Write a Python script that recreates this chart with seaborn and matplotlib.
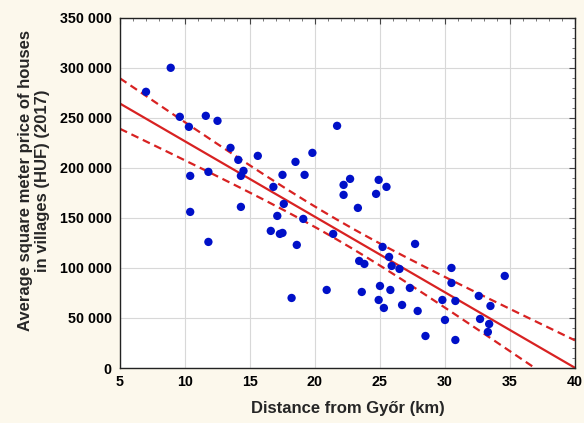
import numpy as np
import pandas as pd
import seaborn as sns
import matplotlib.pyplot as plt
from matplotlib.ticker import FuncFormatter, MultipleLocator

sns.set_style("whitegrid")
plt.rcParams["font.family"] = ["Liberation Sans", "DejaVu Sans"]

# distance from Győr (km)
distance = [7.0, 8.9, 9.6, 10.3, 10.4, 10.4, 11.6, 12.5, 11.8, 11.8,
            13.5, 14.1, 14.5, 14.3, 14.3, 15.6, 16.8, 16.6, 17.1, 17.3,
            17.5, 17.5, 17.6, 18.5, 18.2, 18.6, 19.1, 19.2, 19.8, 20.9,
            21.4, 21.7, 22.2, 22.2, 22.7, 23.3, 23.4, 23.8, 23.6, 24.7,
            24.9, 25.5, 25.0, 24.9, 25.2, 25.7, 25.8, 25.3, 25.9, 26.5,
            26.7, 27.3, 27.7, 27.9, 28.5, 29.8, 30.0, 30.5, 30.5, 30.8,
            30.8, 32.6, 32.7, 33.3, 33.4, 33.5, 34.6]
# average square meter price (HUF)
price = [276000, 300000, 251000, 241000, 192000, 156000, 252000, 247000, 196000, 126000,
         220000, 208000, 197000, 192000, 161000, 212000, 181000, 137000, 152000, 134000,
         135000, 193000, 164000, 206000, 70000, 123000, 149000, 193000, 215000, 78000,
         134000, 242000, 173000, 183000, 189000, 160000, 107000, 104000, 76000, 174000,
         188000, 181000, 82000, 68000, 121000, 111000, 78000, 60000, 102000, 99000,
         63000, 80000, 124000, 57000, 32000, 68000, 48000, 100000, 85000, 67000,
         28000, 72000, 49000, 36000, 44000, 62000, 92000]

df = pd.DataFrame({"distance": distance, "price": price})

# linear fit with 95% confidence band of the mean
x = df["distance"].to_numpy()
y = df["price"].to_numpy()
b, a = np.polyfit(x, y, 1)
n = len(x)
resid = y - (a + b * x)
s = np.sqrt((resid ** 2).sum() / (n - 2))
sxx = ((x - x.mean()) ** 2).sum()
xs = np.linspace(5, 40, 200)
fit = a + b * xs
half = 1.997 * s * np.sqrt(1 / n + (xs - x.mean()) ** 2 / sxx)
fit_df = pd.DataFrame({"x": xs, "fit": fit, "lo": fit - half, "hi": fit + half})

fig = plt.figure(figsize=(5.84, 4.23), dpi=100)
fig.patch.set_facecolor("#FCF8EC")
ax = fig.add_axes([0.2055, 0.130, 0.779, 0.828])
ax.set_facecolor("white")

red = "#D82222"
sns.lineplot(data=fit_df, x="x", y="fit", color=red, lw=1.6, ax=ax)
sns.lineplot(data=fit_df, x="x", y="hi", color=red, lw=1.6, ax=ax, dashes=False,
             linestyle=(0, (3.5, 2.2)))
sns.lineplot(data=fit_df, x="x", y="lo", color=red, lw=1.6, ax=ax, dashes=False,
             linestyle=(0, (3.5, 2.2)))
sns.scatterplot(data=df, x="distance", y="price", color="#0010C8", s=36,
                edgecolor="none", ax=ax, zorder=3)

ax.set_xlim(5, 40)
ax.set_ylim(0, 350000)
ax.xaxis.set_major_locator(MultipleLocator(5))
ax.yaxis.set_major_locator(MultipleLocator(50000))
ax.xaxis.set_minor_locator(MultipleLocator(1))
ax.yaxis.set_minor_locator(MultipleLocator(10000))
ax.yaxis.set_major_formatter(FuncFormatter(lambda v, p: f"{int(v):,}".replace(",", " ")))
ax.grid(True, which="major", color="#D8D8D8", lw=0.8)
ax.grid(False, which="minor")
for sp in ax.spines.values():
    sp.set_color("#222222")
    sp.set_linewidth(1.0)
ax.tick_params(which="both", direction="in", top=True, right=True, colors="#444444",
               labelcolor="black")
ax.tick_params(which="major", length=4, width=0.8)
ax.tick_params(which="minor", length=2, width=0.5)
ax.tick_params(axis="y", which="major", pad=6)
ax.tick_params(axis="x", which="major", pad=5)
for lab in ax.get_xticklabels() + ax.get_yticklabels():
    lab.set_fontweight("bold")
    lab.set_fontsize(10.3)

ax.set_xlabel("Distance from Győr (km)", fontsize=12, fontweight="bold", labelpad=9)
ax.set_ylabel("Average square meter price of houses\nin villages (HUF) (2017)",
              fontsize=12, fontweight="bold")
ax.yaxis.set_label_coords(-0.153, 0.535)

fig.savefig("out.png", dpi=100, facecolor=fig.get_facecolor())
